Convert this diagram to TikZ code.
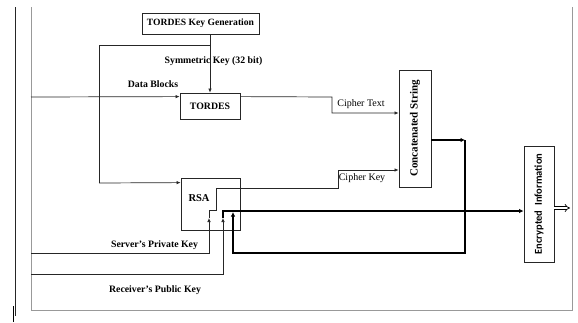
\documentclass[tikz,border=0pt]{standalone}
\usepackage{fontspec}
\setmainfont{Liberation Serif}
\newfontfamily\encfont{Carlito}
\usetikzlibrary{arrows.meta,calc}

\begin{document}
\begin{tikzpicture}[x=1pt,y=-1pt, every node/.style={font=\bfseries\fontsize{9.8}{11}\selectfont,inner sep=0pt},
  blk/.style={draw=black!85,line width=0.8pt,fill=white},
  ln/.style={draw=black!85,line width=0.7pt},
  arr/.style={ln,-{Latex[length=4pt,width=3.5pt]}},
  tln/.style={draw=black,line width=1.6pt},
  tarr/.style={tln,-{Latex[length=4.5pt,width=4.5pt]}},
  frm/.style={draw=black!40,line width=0.8pt}]
  \useasboundingbox (0,0) rectangle (578,322);
  % page frame
  \draw[frm] (31,7) -- (31,310) -- (572,310) -- (572,7);
  \draw[black!85,line width=0.8pt] (15,7) -- (15,316);
  \draw[black,line width=1.6pt] (13.5,306) -- (13.5,322);
  % blocks
  \node[blk,minimum width=117pt,minimum height=21pt,font=\bfseries\fontsize{9.6}{11}\selectfont] (keygen) at (200.5,23.5) {TORDES Key Generation};
  \node[blk,minimum width=60pt,minimum height=26pt] (tordes) at (210,106) {TORDES};
  \node[blk,minimum width=59pt,minimum height=52pt] (rsa) at (210.5,204) {};
  \node[font=\bfseries\fontsize{10.5}{11}\selectfont] (rsatxt) at (199,198) {RSA};
  \node[blk,minimum width=32pt,minimum height=117pt] (concat) at (415,128.5) {};
  \node[rotate=90,font=\bfseries\fontsize{11}{12}\selectfont] (concattxt) at (concat) {Concatenated String};
  \node[blk,minimum width=30pt,minimum height=116pt] (encinfo) at (539,204) {};
  \node[rotate=90,font=\encfont\bfseries\fontsize{10.5}{11}\selectfont] (enctxt) at (encinfo) {Encrypted\ \ Information};
  % free ends
  \coordinate (split) at (210,45);
  \coordinate (keytip) at (209,218);
  \coordinate (pubtip) at (223,218);
  \coordinate (outtip) at (233,212);
  \coordinate (loop) at (465,140);
  % key and data
  \draw[arr] (keygen.south -| tordes.north) -- (tordes.north);
  \draw[ln] (split) -| (99,183);
  \draw[arr] (99,183) -- ($(rsa.north west)+(0,5)$);
  \draw[arr] (31,97) -- ($(tordes.north west)+(0,4)$);
  \draw[arr] ($(tordes.north east)+(0,4)$) -- (332,97) -- (332,113) -- (concat.west |- 0,113);
  % rsa inputs and cipher key
  \draw[arr] (31,253) -| (keytip);
  \draw[arr] (31,274) -| (pubtip);
  \draw[arr] (keytip) -- (209,210) -- (216,210) -- (216,188) -- (338,188) -- (338,170) -- (concat.west |- 0,170);
  % concatenated output
  \draw[tarr] (concat.east |- 0,140) -- (loop);
  \draw[tarr] (loop) |- (233,253) -- (outtip);
  \draw[tarr] (pubtip) -- (223,211) -- (encinfo.west |- 0,211);
  \draw[draw=black,line width=0.7pt,double=white,double distance=2pt,-{Implies[length=4pt]}] (encinfo.east |- 0,208) -- (570,208);
  % labels
  \node (symlbl) at (213.5,61) {Symmetric Key (32 bit)};
  \node (datalbl) at (153,84) {Data Blocks};
  \node[font=\fontsize{10}{11}\selectfont] (ctlbl) at (361,104) {Cipher Text};
  \node[font=\fontsize{10}{11}\selectfont] (cklbl) at (362,178) {Cipher Key};
  \node (spklbl) at (154.5,245) {Server's Private Key};
  \node (rpklbl) at (155,290) {Receiver's Public Key};
\end{tikzpicture}
\end{document}
